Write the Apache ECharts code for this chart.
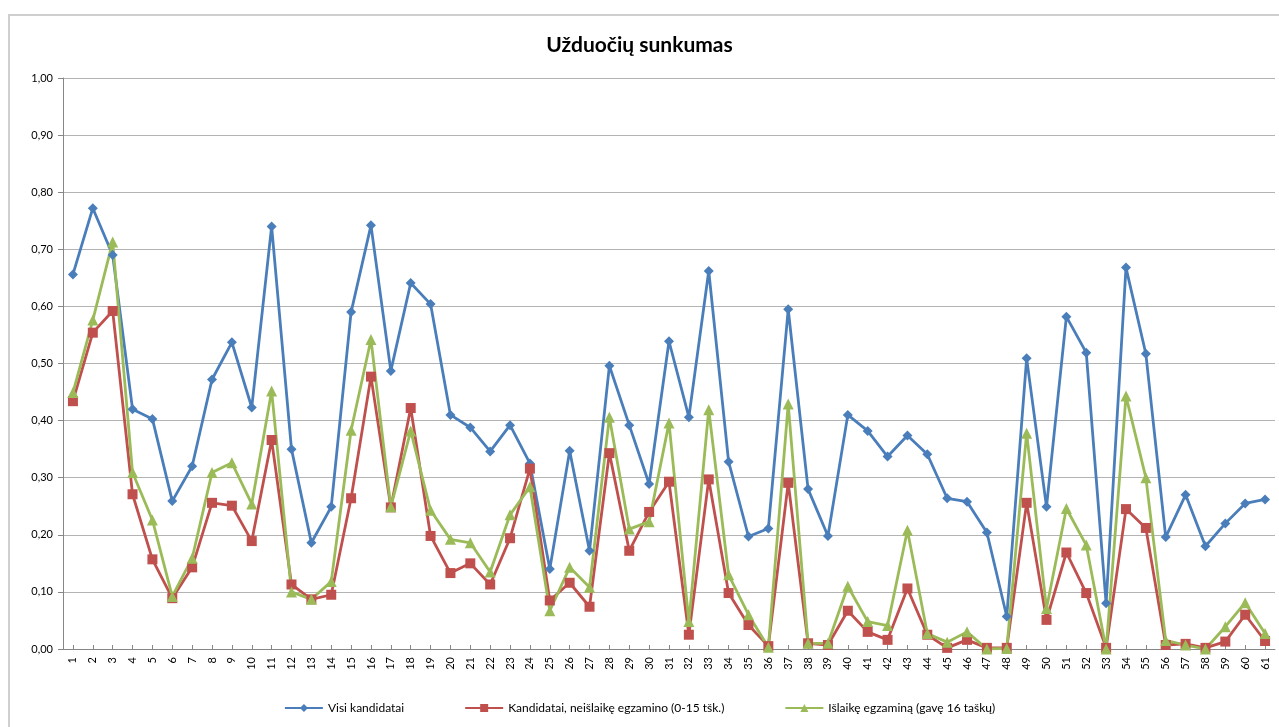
<!DOCTYPE html>
<html>
<head>
<meta charset="utf-8">
<script src="https://cdn.jsdelivr.net/npm/echarts@6/dist/echarts.min.js"></script>
<style>
    html, body { margin: 0; padding: 0; background: #fff; }
    #wrap { position: relative; width: 1279px; height: 727px; overflow: hidden; }
    #frame { position: absolute; left: 8px; top: 14px; width: 1300px; height: 800px;
             border-left: 2px solid #cfcfcf; border-top: 2px solid #cfcfcf; }
    #chart { position: absolute; left: 0; top: 0; width: 1279px; height: 727px; }
</style>
</head>
<body>
<div id="wrap">
    <div id="frame"></div>
    <div id="chart"></div>
</div>
<script>
// 题号
const categories = [];
for (let i = 1; i <= 61; i++) categories.push(String(i));

// 系列名称
const seriesNames = ['Visi kandidatai', 'Kandidatai, neišlaikę egzamino (0-15 tšk.)', 'Išlaikę egzaminą (gavę 16 taškų)'];

// 数据
const allCandidates = [
    0.656, 0.772, 0.690, 0.420, 0.403, 0.259, 0.320, 0.472, 0.537, 0.423,
    0.740, 0.350, 0.186, 0.249, 0.590, 0.742, 0.487, 0.641, 0.604, 0.410,
    0.388, 0.346, 0.392, 0.325, 0.140, 0.347, 0.172, 0.496, 0.392, 0.289,
    0.539, 0.406, 0.662, 0.328, 0.197, 0.211, 0.595, 0.280, 0.198, 0.410,
    0.382, 0.337, 0.374, 0.341, 0.264, 0.258, 0.204, 0.057, 0.509, 0.249,
    0.582, 0.519, 0.080, 0.668, 0.517, 0.196, 0.270, 0.180, 0.220, 0.255,
    0.262
];
const failed = [
    0.434, 0.554, 0.592, 0.271, 0.157, 0.089, 0.143, 0.256, 0.251, 0.189,
    0.366, 0.113, 0.087, 0.095, 0.264, 0.477, 0.248, 0.422, 0.198, 0.133,
    0.150, 0.113, 0.194, 0.316, 0.085, 0.116, 0.074, 0.343, 0.172, 0.240,
    0.293, 0.025, 0.297, 0.098, 0.042, 0.005, 0.291, 0.010, 0.007, 0.067,
    0.030, 0.016, 0.106, 0.025, 0.002, 0.016, 0.002, 0.002, 0.256, 0.051,
    0.169, 0.098, 0.002, 0.245, 0.212, 0.007, 0.009, 0.002, 0.013, 0.060,
    0.014
];
const passed = [
    0.449, 0.576, 0.713, 0.309, 0.226, 0.092, 0.159, 0.309, 0.326, 0.254,
    0.452, 0.100, 0.087, 0.118, 0.383, 0.542, 0.249, 0.382, 0.243, 0.192,
    0.186, 0.135, 0.235, 0.284, 0.067, 0.143, 0.108, 0.406, 0.210, 0.223,
    0.396, 0.048, 0.419, 0.130, 0.060, 0.003, 0.429, 0.010, 0.010, 0.110,
    0.048, 0.041, 0.208, 0.027, 0.012, 0.030, 0.000, 0.001, 0.378, 0.071,
    0.246, 0.182, 0.000, 0.443, 0.300, 0.015, 0.007, 0.000, 0.039, 0.081,
    0.027
];

// 颜色
const colors = {
    blue: '#4a7ebb',
    red: '#c0504d',
    green: '#9bbb59',
    grid: '#b3b3b3',
    axis: '#868686'
};

const fontFamily = 'Lato, "Open Sans", sans-serif';

function makeSeries(name, data, color, symbol, size) {
    return {
        name: name,
        type: 'line',
        data: data,
        symbol: symbol,
        symbolSize: size,
        itemStyle: { color: color },
        lineStyle: { color: color, width: 2.8 },
        emphasis: { disabled: true }
    };
}

const chart = echarts.init(document.getElementById('chart'));

const option = {
    animation: false,
    title: {
        text: 'Užduočių sunkumas',
        left: 'center',
        top: 30,
        textStyle: {
            fontFamily: fontFamily,
            fontSize: 21,
            fontWeight: 'bold',
            color: '#000'
        }
    },
    legend: {
        data: seriesNames,
        bottom: 8,
        left: 'center',
        itemWidth: 38,
        itemHeight: 10,
        itemGap: 60,
        textStyle: { fontFamily: fontFamily, fontSize: 12, color: '#000' }
    },
    grid: {
        left: 63,
        right: 4,
        top: 78,
        bottom: 78,
        containLabel: false
    },
    xAxis: {
        type: 'category',
        data: categories,
        boundaryGap: true,
        axisLine: { lineStyle: { color: colors.axis, width: 1 } },
        axisTick: { show: true, alignWithLabel: true, inside: true, length: 4, lineStyle: { color: colors.axis } },
        axisLabel: {
            rotate: 90,
            interval: 0,
            fontFamily: fontFamily,
            fontSize: 11,
            color: '#000',
            margin: 8
        }
    },
    yAxis: {
        type: 'value',
        min: 0,
        max: 1,
        interval: 0.1,
        axisLine: { show: true, lineStyle: { color: colors.axis } },
        axisTick: { show: true, length: 5, lineStyle: { color: colors.axis } },
        splitLine: { lineStyle: { color: colors.grid, width: 1 } },
        axisLabel: {
            fontFamily: fontFamily,
            fontSize: 11,
            color: '#000',
            margin: 10,
            formatter: function (v) {
                return v.toFixed(2).replace('.', ',');
            }
        }
    },
    series: [
        makeSeries(seriesNames[0], allCandidates, colors.blue, 'diamond', 10),
        makeSeries(seriesNames[1], failed, colors.red, 'rect', 10),
        makeSeries(seriesNames[2], passed, colors.green, 'triangle', 11)
    ]
};

chart.setOption(option);
</script>
</body>
</html>
